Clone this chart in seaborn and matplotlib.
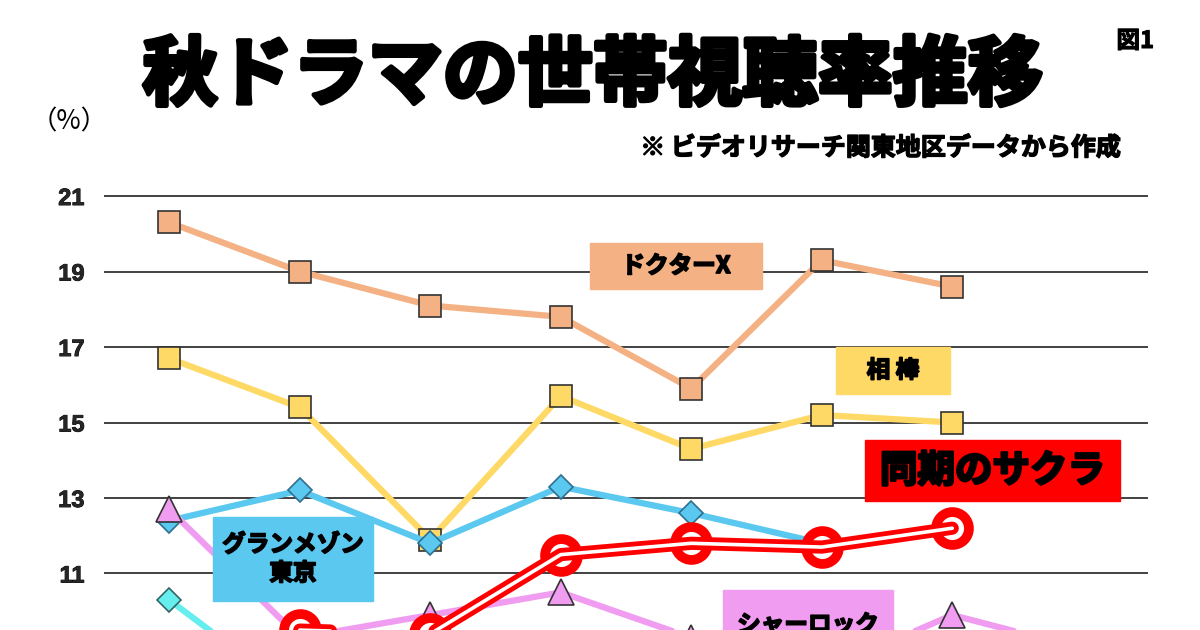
import numpy as np
import pandas as pd
import seaborn as sns
import matplotlib.pyplot as plt
import matplotlib.patheffects as pe
from matplotlib.patches import Rectangle

# ratings (%) per episode; nan = not aired / off the picture
episodes = [1, 2, 3, 4, 5, 6, 7, 8]
doctor_x = [20.3, 19.0, 18.1, 17.8, 15.9, 19.3, 18.6, np.nan]
aibou = [16.7, 15.4, 11.9, 15.7, 14.3, 15.2, 15.0, np.nan]
grand_maison = [12.4, 13.2, 11.8, 13.3, 12.6, 11.8, np.nan, np.nan]
cyan_drama = [10.3, 7.7, np.nan, np.nan, np.nan, np.nan, np.nan, np.nan]
sherlock = [12.7, 9.3, 9.9, 10.5, 9.3, 8.4, 9.9, 9.0]
sakura = [np.nan, 9.5, 9.4, 11.5, 11.8, 11.7, 12.2, np.nan]

yticks = [9, 11, 13, 15, 17, 19, 21]

title = "秋ドラマの世帯視聴率推移"
note = "※ ビデオリサーチ関東地区データから作成"
jp = ["Noto Sans CJK JP", "DejaVu Sans"]

sns.set_style("white")
plt.rcParams["font.family"] = ["Liberation Sans", "Noto Sans CJK JP"]


def heavy(w):
    return [pe.withStroke(linewidth=w, foreground="black")]


fig = plt.figure(figsize=(12, 6.3), dpi=100)
ax = fig.add_axes([104 / 1200, 0, 1044 / 1200, 440 / 630])

df = pd.DataFrame({"ep": episodes, "dx": doctor_x, "ai": aibou,
                   "gm": grand_maison, "cy": cyan_drama,
                   "sh": sherlock, "sk": sakura})

# gridlines
for t in yticks:
    ax.axhline(t, color="#333333", lw=1.3, zorder=0)

sq = dict(marker="s", markersize=16, markeredgecolor="#333333", markeredgewidth=1.2)
sns.lineplot(data=df, x="ep", y="dx", color="#F4B183", lw=4.5,
             markerfacecolor="#F4B183", ax=ax, **sq)
sns.lineplot(data=df, x="ep", y="ai", color="#FFD966", lw=4.5,
             markerfacecolor="#FFD966", ax=ax, **sq)
sns.lineplot(data=df, x="ep", y="cy", color="#66EEEE", lw=4.5, marker="D",
             markersize=12.5, markerfacecolor="#66EEEE",
             markeredgecolor="#336666", markeredgewidth=1.2, ax=ax)
sns.lineplot(data=df, x="ep", y="gm", color="#5BC8F0", lw=4.5, marker="D",
             markersize=12.5, markerfacecolor="#5BC8F0",
             markeredgecolor="#2F6F8F", markeredgewidth=1.2, ax=ax)
sns.lineplot(data=df, x="ep", y="sh", color="#F09CF0", lw=4.5, marker="^",
             markersize=19, markerfacecolor="#F09CF0",
             markeredgecolor="#333333", markeredgewidth=1.2, ax=ax)

# 同期のサクラ: red rings plus a red double line
sns.scatterplot(data=df, x="ep", y="sk", s=560, facecolor="white",
                edgecolor="#FF0000", linewidth=7, zorder=5, ax=ax)
sns.lineplot(data=df, x="ep", y="sk", color="#FF0000", lw=9.5, zorder=6, ax=ax)
sns.lineplot(data=df, x="ep", y="sk", color="white", lw=2.6, zorder=7, ax=ax)

ax.set_xlim(0.5, 8.5)
ax.set_ylim(9.503, 21.16)
ax.set_yticks(yticks[1:])
ax.set_xticks([])
ax.set_xlabel("")
ax.set_ylabel("")
ax.tick_params(axis="y", length=0, pad=14, labelsize=17)
for lab in ax.get_yticklabels():
    lab.set_fontweight("bold")
    lab.set_path_effects(heavy(0.6))
sns.despine(ax=ax, left=True, bottom=True, top=True, right=True)
ax.patch.set_alpha(0)


def px2data(px, py):
    return 0.5 + (px - 104) / 130.5, 21 - (py - 196) / 37.75


def label_box(x0, y0, x1, y1, color, text, size):
    a = px2data(x0, y1)
    b = px2data(x1, y0)
    ax.add_patch(Rectangle(a, b[0] - a[0], b[1] - a[1], color=color,
                           zorder=8, clip_on=False))
    ax.text((a[0] + b[0]) / 2, (a[1] + b[1]) / 2, text, ha="center",
            va="center", fontsize=size, fontweight="bold", family=jp,
            color="black", zorder=9, linespacing=1.25,
            path_effects=heavy(size / 14))


label_box(590, 243, 762, 289, "#F4B183", "ドクターX", 17)
label_box(836, 347, 950, 394, "#FFD966", "相 棒", 17)
label_box(865, 440, 1120, 501, "#FF0000", "同期のサクラ", 27)
label_box(213, 517, 373, 601, "#5BC8F0", "グランメゾン\n東京", 17)
label_box(723, 590, 893, 660, "#F09CF0", "シャーロック", 17)

fig.text(0.494, 0.878, title, ha="center", va="center", fontsize=54,
         fontweight="bold", family=jp, color="black",
         path_effects=heavy(3.5))
fig.text(0.946, 0.935, "図1", ha="center", va="center", fontsize=17,
         fontweight="bold", family=jp, color="black", path_effects=heavy(0.8))
fig.text(0.058, 0.806, "（%）", ha="center", va="center", fontsize=19,
         family=jp, color="black")
fig.text(0.934, 0.765, note, ha="right", va="center", fontsize=18,
         fontweight="bold", family=jp, color="black", path_effects=heavy(1))

fig.savefig("out.png", dpi=100)
